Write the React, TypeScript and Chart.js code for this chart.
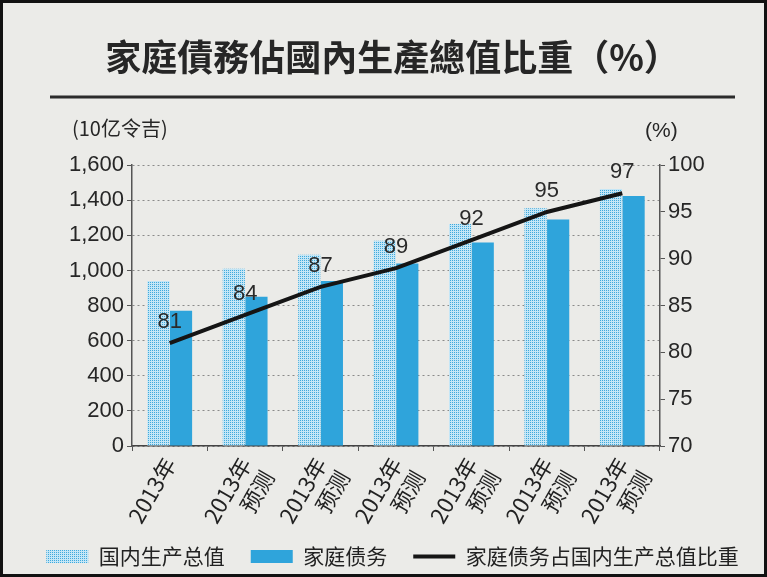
import React, { useEffect, useRef } from "react";
import { Chart, registerables } from "chart.js";

Chart.register(...registerables);

const titleText = "家庭債務佔國內生產總值比重（%）";
const leftUnit = "(10亿令吉)";
const rightUnit = "(%)";
const categories: (string | string[])[] = [
  "2013年",
  ["2013年", "预测"],
  ["2013年", "预测"],
  ["2013年", "预测"],
  ["2013年", "预测"],
  ["2013年", "预测"],
  ["2013年", "预测"],
];
const gdpValues = [940, 1010, 1090, 1170, 1265, 1355, 1465];
const debtValues = [770, 850, 940, 1040, 1160, 1290, 1425];
const ratioValues = [81, 84, 87, 89, 92, 95, 97];
const seriesNames = ["国内生产总值", "家庭债务", "家庭债务占国内生产总值比重"];

const NUM_FONT = "'Liberation Sans', Arial, 'Noto Sans CJK SC', sans-serif";
const CJK_FONT = "'Noto Sans CJK SC', 'Liberation Sans', sans-serif";

function makePattern(): CanvasPattern | string {
  const c = document.createElement("canvas");
  c.width = 2;
  c.height = 2;
  const g = c.getContext("2d");
  if (!g) return "#9fd4ee";
  g.fillStyle = "#c4e6f6";
  g.fillRect(0, 0, 2, 2);
  g.fillStyle = "#3fa9dc";
  g.fillRect(0, 0, 1, 1);
  const p = g.createPattern(c, "repeat");
  return p || "#9fd4ee";
}

const decorPlugin = {
  id: "decor",
  afterDatasetsDraw(chart: any) {
    const ctx = chart.ctx;
    ctx.save();
    ctx.strokeStyle = "#2b2b2b";
    ctx.lineWidth = 3;
    ctx.beginPath();
    ctx.moveTo(50, 97);
    ctx.lineTo(735, 97);
    ctx.stroke();
    ctx.restore();
    const meta = chart.getDatasetMeta(2);
    ctx.save();
    ctx.fillStyle = "#2a2a2a";
    ctx.font = `22px ${NUM_FONT}`;
    ctx.textAlign = "center";
    ctx.textBaseline = "middle";
    meta.data.forEach((pt: any, i: number) => {
      ctx.fillText(String(ratioValues[i]), pt.x, pt.y - 21);
    });
    ctx.restore();
  },
};

export default function App() {
  const ref = useRef<HTMLCanvasElement | null>(null);

  useEffect(() => {
    if (!ref.current) return;
    const pattern = makePattern();
    const chart = new Chart(ref.current, {
      type: "bar",
      data: {
        labels: categories,
        datasets: [
          {
            type: "bar",
            label: seriesNames[0],
            data: gdpValues,
            backgroundColor: pattern as any,
            yAxisID: "y",
            categoryPercentage: 0.6,
            barPercentage: 0.98,
            order: 2,
          },
          {
            type: "bar",
            label: seriesNames[1],
            data: debtValues,
            backgroundColor: "#2fa4db",
            yAxisID: "y",
            categoryPercentage: 0.6,
            barPercentage: 0.98,
            order: 2,
          },
          {
            type: "line",
            label: seriesNames[2],
            data: ratioValues,
            borderColor: "#151515",
            backgroundColor: "#151515",
            borderWidth: 4,
            pointRadius: 0,
            yAxisID: "y1",
            order: 1,
          } as any,
        ],
      },
      options: {
        responsive: false,
        animation: false,
        layout: { padding: { left: 18, right: 0, top: 0, bottom: 0 } },
        plugins: {
          title: {
            display: true,
            text: titleText,
            color: "#262626",
            font: { size: 36, weight: "bold", family: "'Noto Sans CJK TC', sans-serif" },
            padding: { top: 36, bottom: 86 },
          },
          legend: {
            display: true,
            position: "bottom",
            labels: {
              usePointStyle: true,
              pointStyleWidth: 42,
              boxHeight: 13,
              padding: 26,
              color: "#222",
              font: { size: 21, family: CJK_FONT },
              generateLabels: (ch: any) =>
                ch.data.datasets.map((ds: any, i: number) => ({
                  text: ds.label,
                  fillStyle: i === 2 ? "#151515" : ds.backgroundColor,
                  strokeStyle: i === 2 ? "#151515" : "rgba(0,0,0,0)",
                  lineWidth: i === 2 ? 4 : 0,
                  pointStyle: i === 2 ? "line" : "rect",
                  fontColor: "#222",
                  hidden: false,
                  datasetIndex: i,
                })),
            },
          },
          tooltip: { enabled: false },
        },
        scales: {
          x: {
            grid: {
              display: true,
              drawOnChartArea: false,
              offset: true,
              tickLength: 5,
              tickColor: "#555",
            },
            border: { display: true, color: "#444", width: 1.5 },
            ticks: {
              color: "#222",
              font: { size: 22, family: CJK_FONT },
              minRotation: 60,
              maxRotation: 60,
              autoSkip: false,
              padding: 2,
            },
            afterFit: (s: any) => {
              s.height = 74;
              s._computeLabelArea = () => undefined;
            },
          },
          y: {
            position: "left",
            min: 0,
            max: 1600,
            ticks: {
              stepSize: 200,
              autoSkip: false,
              color: "#262626",
              font: { size: 22, family: NUM_FONT },
              padding: 3,
              callback: (v: any) => Number(v).toLocaleString("en-US"),
            },
            grid: {
              color: "#8a8a8a",
              lineWidth: 1,
              tickLength: 5,
              tickColor: "#555",
            },
            border: { display: true, color: "#555", width: 1.5, dash: [2, 3] },
            afterFit: (s: any) => {
              s.width = 114;
            },
          },
          y1: {
            position: "right",
            min: 70,
            max: 100,
            ticks: {
              stepSize: 5,
              autoSkip: false,
              color: "#262626",
              font: { size: 22, family: NUM_FONT },
              padding: 3,
            },
            grid: {
              drawOnChartArea: false,
              tickLength: 5,
              tickColor: "#555",
            },
            border: { display: true, color: "#555", width: 1.5 },
            afterFit: (s: any) => {
              s.width = 107;
            },
          },
        },
      },
      plugins: [decorPlugin],
    });
    return () => chart.destroy();
  }, []);

  return (
    <div
      style={{
        position: "absolute",
        left: 0,
        top: 0,
        width: 767,
        height: 577,
        background: "#ebebe8",
        overflow: "hidden",
      }}
    >
      <canvas ref={ref} width={767} height={577} style={{ display: "block", width: 767, height: 577 }} />
      <div
        style={{
          position: "absolute",
          left: 72,
          top: 114,
          fontFamily: CJK_FONT,
          fontSize: 20,
          color: "#262626",
          lineHeight: "28px",
        }}
      >
        {leftUnit}
      </div>
      <div
        style={{
          position: "absolute",
          left: 645,
          top: 116,
          fontFamily: NUM_FONT,
          fontSize: 21,
          color: "#262626",
          lineHeight: "28px",
        }}
      >
        {rightUnit}
      </div>
      <div
        style={{
          position: "absolute",
          left: 0,
          top: 0,
          width: 767,
          height: 577,
          boxSizing: "border-box",
          border: "3px solid #111",
          pointerEvents: "none",
        }}
      />
    </div>
  );
}
